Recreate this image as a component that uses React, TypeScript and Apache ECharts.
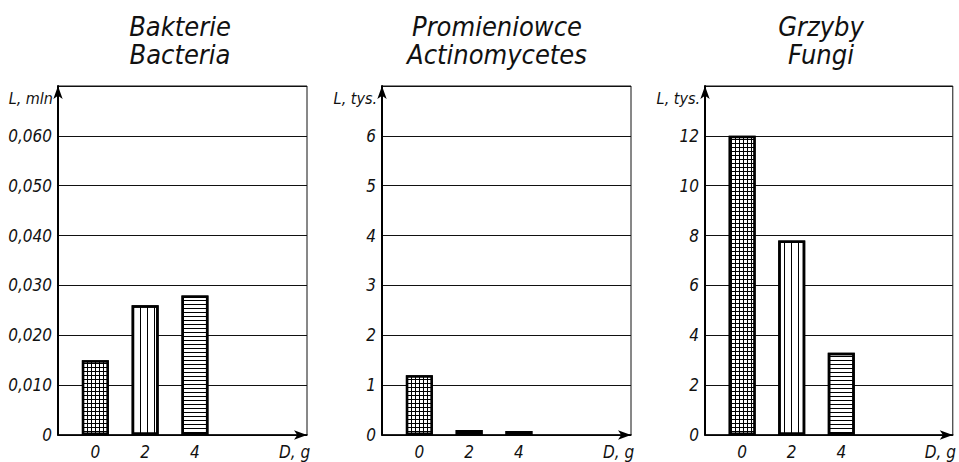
import React, { useEffect, useRef } from 'react';
import * as echarts from 'echarts';

// ---- data ----
const doses = [0, 2, 4];
const bacteria = [0.015, 0.026, 0.028];
const actinomycetes = [1.2, 0.1, 0.08];
const fungi = [12, 7.8, 3.3];
const panelTitles = ['Bakterie\nBacteria', 'Promieniowce\nActinomycetes', 'Grzyby\nFungi'];
const yNames = ['L, mln', 'L, tys.', 'L, tys.'];
const xName = 'D, g';
const xTickLabels = [0, 2, 4];
const xNamePos = 8;
const yMax = [0.07, 7, 14];
const yStep = [0.01, 1, 2];
const yDecimals = [3, 0, 0];

const FONT = "'DejaVu Sans Condensed', 'DejaVu Sans', sans-serif";

const grids = [
  { left: 58, top: 86, width: 249, height: 349 },
  { left: 382, top: 86, width: 249, height: 349 },
  { left: 705, top: 86, width: 251, height: 349 },
];
const titleCenters = [180, 497, 821];

const decals: any[] = [
  { fill: '#000', decal: { symbol: 'rect', symbolSize: 1, color: '#fff', dashArrayX: [[3, 1]], dashArrayY: [3, 1], rotation: 0 } },
  { fill: '#fff', decal: { symbol: 'rect', symbolSize: 1, color: '#000', dashArrayX: [[1, 6]], dashArrayY: [4, 0], rotation: 0 } },
  { fill: '#fff', decal: { symbol: 'rect', symbolSize: 1, color: '#000', dashArrayX: [[4, 0]], dashArrayY: [1, 3], rotation: 0 } },
];

export default function App() {
  const ref = useRef<HTMLDivElement>(null);
  useEffect(() => {
    document.body.style.margin = '0';
    const chart = echarts.init(ref.current!, null, { renderer: 'svg' });
    const seriesValues = [bacteria, actinomycetes, fungi];
    const option: any = {
      animation: false,
      backgroundColor: '#fff',
      title: panelTitles.map((t, i) => ({
        text: t,
        left: titleCenters[i],
        top: 12,
        textAlign: 'center',
        padding: 0,
        textStyle: { fontFamily: FONT, fontStyle: 'italic', fontWeight: 'normal', fontSize: 27, lineHeight: 28, color: '#111' },
      })),
      grid: grids.map((g) => ({ ...g, show: true, borderColor: '#111', borderWidth: 1, backgroundColor: 'transparent', containLabel: false })),
      xAxis: grids.map((_, i) => ({
        type: 'value',
        gridIndex: i,
        min: -1.5,
        max: 8.5,
        interval: 0.5,
        splitLine: { show: false },
        axisTick: { show: false },
        axisLine: { show: true, onZero: false, symbol: ['none', 'arrow'], symbolSize: [7, 13], lineStyle: { color: '#000', width: 1.6 } },
        axisLabel: {
          margin: 8,
          fontFamily: FONT,
          fontStyle: 'italic',
          fontSize: 17,
          color: '#111',
          formatter: (v: number) => {
            if (Math.abs(v - xNamePos) < 1e-6) return xName;
            for (const t of xTickLabels) if (Math.abs(v - t) < 1e-6) return String(t);
            return '';
          },
        },
      })),
      yAxis: grids.map((_, i) => ({
        type: 'value',
        gridIndex: i,
        min: 0,
        max: yMax[i],
        interval: yStep[i],
        name: yNames[i],
        nameLocation: 'end',
        nameGap: -12,
        nameTextStyle: { fontFamily: FONT, fontStyle: 'italic', fontSize: 16, color: '#111', align: 'right', verticalAlign: 'middle', padding: [0, 5, 0, 0] },
        splitLine: { show: true, lineStyle: { color: '#111', width: 1.2 } },
        axisTick: { show: false },
        axisLine: { show: true, onZero: false, symbol: ['none', 'arrow'], symbolSize: [7, 13], lineStyle: { color: '#000', width: 2 } },
        axisLabel: {
          margin: 6,
          fontFamily: FONT,
          fontStyle: 'italic',
          fontSize: 17,
          color: '#111',
          formatter: (v: number) => {
            if (v >= yMax[i] - 1e-9) return '';
            if (v === 0) return '0';
            return v.toFixed(yDecimals[i]).replace('.', ',');
          },
        },
      })),
      series: seriesValues.map((vals, i) => ({
        type: 'bar',
        xAxisIndex: i,
        yAxisIndex: i,
        barWidth: 27,
        data: vals.map((v, j) => ({
          value: [doses[j], v],
          itemStyle: { color: decals[j].fill, decal: decals[j].decal, borderColor: '#000', borderWidth: 2.5 },
        })),
      })),
    };
    chart.setOption(option);
    return () => chart.dispose();
  }, []);
  return <div ref={ref} style={{ width: 959, height: 462 }} />;
}
